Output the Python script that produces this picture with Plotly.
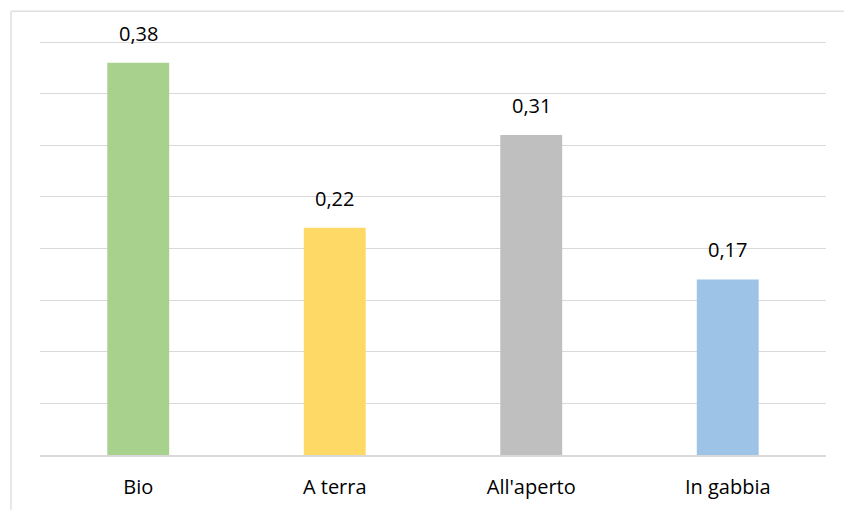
import plotly.graph_objects as go

# Egg categories and their values
categories = ["Bio", "A terra", "All'aperto", "In gabbia"]
values = [0.38, 0.22, 0.31, 0.17]
bar_colors = ["#A9D18E", "#FFD966", "#BFBFBF", "#9DC3E6"]

FONT = "Open Sans"
GRID = "#D9D9D9"
FRAME = "#E0E0E0"

fig = go.Figure(
    go.Bar(
        x=categories,
        y=values,
        marker=dict(color=bar_colors, line=dict(width=0)),
        width=0.315,
        hoverinfo="skip",
    )
)

# Value labels above each bar, with comma as decimal separator
for cat, val in zip(categories, values):
    fig.add_annotation(
        x=cat, y=val,
        text=f"{val:.2f}".replace(".", ","),
        showarrow=False,
        yanchor="bottom",
        yshift=14,
        font=dict(family=FONT, size=20, color="#000000"),
    )

# Outer chart frame (top and left edges fall inside the page)
fig.add_shape(
    type="line", xref="paper", yref="paper",
    x0=-0.0369, x1=1.0229, y0=1.0721, y1=1.0721,
    line=dict(color=FRAME, width=1.5), layer="below",
)
fig.add_shape(
    type="line", xref="paper", yref="paper",
    x0=-0.0369, x1=-0.0369, y0=-0.1322, y1=1.0721,
    line=dict(color=FRAME, width=1.5), layer="below",
)

fig.update_layout(
    width=844, height=512,
    margin=dict(l=40, r=18, t=41, b=55),
    paper_bgcolor="white",
    plot_bgcolor="white",
    showlegend=False,
    bargap=0.685,
    xaxis=dict(
        showgrid=False,
        showline=True, linecolor=GRID, linewidth=1.5,
        ticks="",
        tickfont=dict(family=FONT, size=20, color="#000000"),
        ticklabelstandoff=13,
    ),
    yaxis=dict(
        range=[0, 0.401],
        tick0=0,
        dtick=0.05,
        showgrid=True, gridcolor=GRID, gridwidth=1.3,
        showticklabels=False,
        zeroline=False,
        ticks="",
    ),
)

fig.write_html("out.html", config={"displayModeBar": False})
